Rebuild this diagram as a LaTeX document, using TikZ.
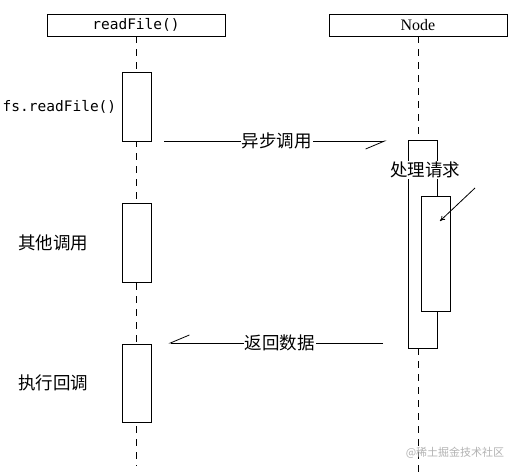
\documentclass[tikz,border=0pt]{standalone}
\usepackage{fontspec}
\setmainfont{Liberation Serif}
\setmonofont{DejaVu Sans Mono}
\newfontfamily\cjk{Noto Sans CJK SC}
\usetikzlibrary{positioning,arrows.meta}

\tikzset{
  headbox/.style={draw, fill=white, minimum width=178pt, minimum height=22pt, inner sep=0pt},
  actbox/.style={draw, fill=white, minimum width=29pt, inner sep=0pt},
  lifeline/.style={dash pattern=on 7pt off 6pt},
  msg/.style={-{Straight Barb[harpoon,swap,length=19pt,width=16pt]}},
  cjktext/.style={font=\cjk\fontsize{17.5}{19}\selectfont},
  lbl/.style={cjktext, fill=white, inner sep=1pt},
}

\begin{document}
\begin{tikzpicture}[x=1pt, y=-1pt, line width=0.8pt]
  \useasboundingbox (0,0) rectangle (520,473);
  % lifelines heads
  \node[headbox] (rf) at (136,25) {\fontsize{14.5}{16}\ttfamily readFile()};
  \node[headbox] (nd) at (418,25) {\fontsize{16}{18}\selectfont Node};
  \coordinate (rfend) at (136,466);
  \coordinate (ndend) at (418,473);
  \draw[lifeline] (rf.south) -- (rfend);
  % activations of readFile()
  \node[actbox, minimum height=69pt] (a1) at (136.5,106.5) {};
  \node[actbox, minimum height=79pt] (a2) at (136.5,242.5) {};
  \node[actbox, minimum height=78pt] (a3) at (136.5,383) {};
  \node[left=5pt of a1, inner sep=0pt] (t1) {\fontsize{14.5}{16}\ttfamily fs.readFile()};
  \node[left=33pt of a2, inner sep=0pt, cjktext] (t2) {其他调用};
  \node[left=33pt of a3, inner sep=0pt, cjktext] (t3) {执行回调};
  % activations of Node
  \node[actbox, minimum height=208pt] (big) at (422.5,244) {};
  \draw[lifeline] (nd.south) -- (nd.south |- big.north);
  \draw[lifeline] (nd.south |- big.south) -- (ndend);
  \node[actbox, minimum height=115pt] (inner) at (435.5,253.5) {};
  \node[lbl] (work) at (425,170) {处理请求};
  \coordinate (ptr) at (475,188);
  \draw[-{To[length=5pt,width=5pt]}] (ptr) -- (440,221);
  % messages
  \coordinate (call) at (151,141);
  \coordinate (ret) at (408,343);
  \draw[msg, shorten <=13pt, shorten >=21pt] (call) -- (big.west |- call)
    node[lbl, pos=0.49] (callt) {异步调用};
  \draw[msg, shorten <=25pt, shorten >=17pt] (ret) -- (a3.east |- ret)
    node[lbl, pos=0.5] (rett) {返回数据};
  % watermark
  \node[font=\cjk\fontsize{11}{12}\selectfont, text=gray!60, inner sep=0pt] (wm) at (455,453) {@稀土掘金技术社区};
\end{tikzpicture}
\end{document}
